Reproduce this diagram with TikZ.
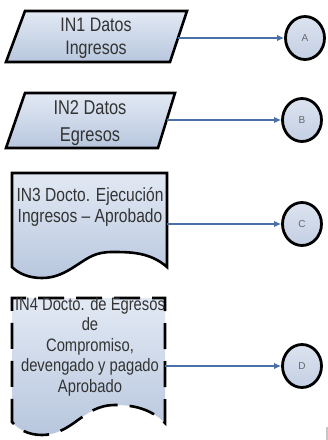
\documentclass[tikz,border=0pt]{standalone}
\usepackage{fontspec}
\setmainfont{Liberation Sans}
\newfontfamily\narrowsf[FakeStretch=0.82]{Liberation Sans}
\usetikzlibrary{arrows.meta,shapes.geometric}
\definecolor{shapeTop}{HTML}{E2E9F4}
\definecolor{shapeBot}{HTML}{B8C7DE}
\definecolor{connTop}{HTML}{DCE3EF}
\definecolor{connBot}{HTML}{C3CFE3}
\definecolor{arrowblue}{HTML}{4A70A8}
\definecolor{txtgray}{HTML}{333333}
\begin{document}
\begin{tikzpicture}[x=1pt,y=-1pt,
  shapebox/.style={draw=black,line width=2.6pt,top color=shapeTop,bottom color=shapeBot,line join=miter},
  dashbox/.style={shapebox,dash pattern=on 26pt off 12pt,line cap=butt},
  lbl/.style={align=center,inner sep=0pt,text=txtgray},
  conn/.style={ellipse,draw=black,line width=2.8pt,top color=connTop,bottom color=connBot,minimum width=39pt,minimum height=43pt,inner sep=0pt,
    text=gray!80!black,font=\fontsize{10}{12}\selectfont},
  flow/.style={draw=arrowblue,line width=1.3pt,-{Latex[length=7pt,width=6.5pt]}}
]
\useasboundingbox (0,0) rectangle (328,440);
\fill[white] (0,0) rectangle (328,440);

% shapes
\path[shapebox] (25,11) -- (187,11) -- (170,62) -- (6,62) -- cycle;
\path[shapebox] (25,93) -- (175,93) -- (158,148) -- (6,148) -- cycle;
\path[shapebox] (12,173) -- (167,173) -- (167,267)
  .. controls (150,252) and (130,252) .. (112,252)
  .. controls (95,252) and (88,258) .. (77,265)
  .. controls (65,273) and (55,278) .. (42,278)
  .. controls (28,278) and (18,273) .. (12,267) -- cycle;
\path[dashbox] (12,310) -- (12,298) -- (165,298) -- (165,423)
  .. controls (150,408) and (132,405) .. (115,405)
  .. controls (98,405) and (88,413) .. (78,420)
  .. controls (66,429) and (55,435) .. (42,435)
  .. controls (28,435) and (18,429) .. (12,422) -- cycle;

% texts
\node[lbl,font=\narrowsf\fontsize{19.5}{23}\selectfont] (t1) at (96,38) {IN1 Datos\\Ingresos};
\node[lbl,font=\narrowsf\fontsize{20}{27}\selectfont] (t2) at (90,123) {IN2 Datos\\Egresos};
\node[lbl,font=\narrowsf\fontsize{19}{20.5}\selectfont] (t3) at (90,207) {IN3 Docto. Ejecución\\Ingresos – Aprobado};
\node[lbl,font=\narrowsf\fontsize{18}{20.5}\selectfont] (t4) at (90,346.5) {IN4 Docto. de Egresos\\de\\Compromiso,\\devengado y pagado\\Aprobado};

% off-page connectors
\node[conn] (a) at (305,38) {A};
\node[conn] (b) at (302,120) {B};
\node[conn] (c) at (302,224) {C};
\node[conn] (d) at (302,366) {D};

% arrow start points on shape edges
\coordinate (p1e) at (178,38);
\coordinate (p2e) at (166.7,120);
\coordinate (p3e) at (167,224);
\coordinate (p4e) at (165,366);

\draw[flow] (p1e) -- (a.west);
\draw[flow] (p2e) -- (b.west);
\draw[flow] (p3e) -- (c.west);
\draw[flow] (p4e) -- (d.west);

% cropped fragment at bottom right
\draw[gray!45,line width=2pt] (326.5,427) -- (326.5,440);
\end{tikzpicture}
\end{document}
